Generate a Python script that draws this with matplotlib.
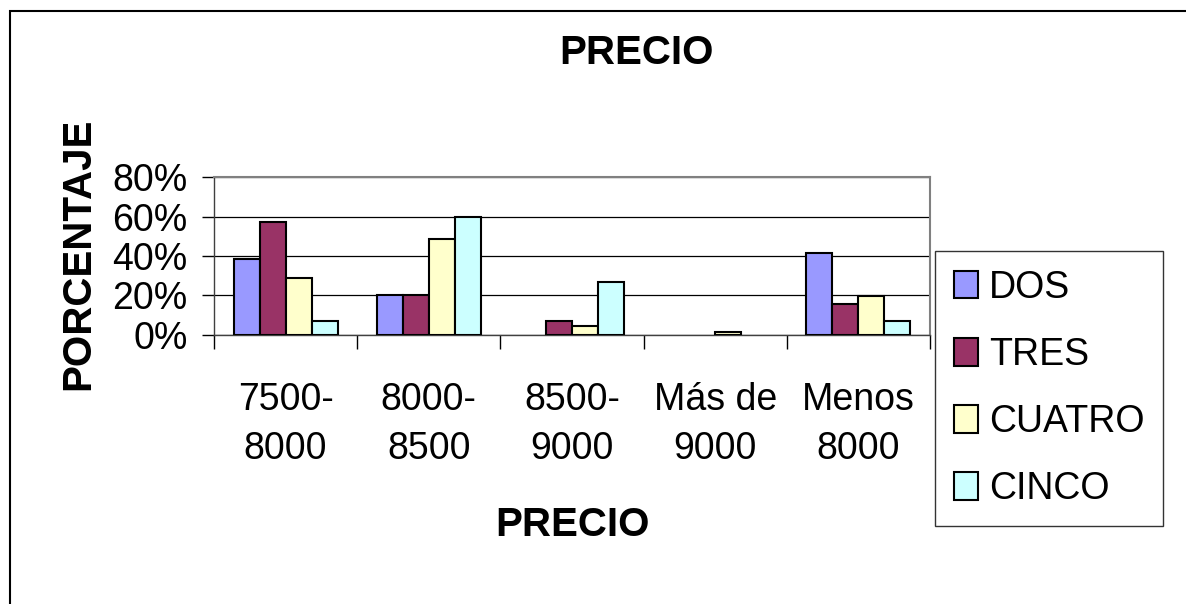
import matplotlib
matplotlib.use("Agg")
import matplotlib.pyplot as plt
import numpy as np
from matplotlib.patches import Rectangle

plt.rcParams["font.family"] = ["Liberation Sans", "DejaVu Sans"]

categories = ["7500-\n8000", "8000-\n8500", "8500-\n9000", "Más de\n9000", "Menos\n8000"]
series = ["DOS", "TRES", "CUATRO", "CINCO"]
dos = [38.5, 20, 0, 0, 41.4]
tres = [57.1, 20, 6.9, 0, 15.6]
cuatro = [28.6, 48.5, 4.2, 1.4, 19.8]
cinco = [6.9, 60, 26.9, 0, 6.9]
colors = ["#9999FF", "#993366", "#FFFFCC", "#CCFFFF"]

W, H = 1186, 604
fig = plt.figure(figsize=(W / 100, H / 100), dpi=100)
fig.patch.set_facecolor("white")

ax = fig.add_axes([214 / W, 1 - 334.7 / H, (930 - 214) / W, (334.7 - 177.3) / H])

x = np.arange(len(categories))
width = 1 / 5.5
for i, (name, vals) in enumerate(zip(series, [dos, tres, cuatro, cinco])):
    vals = np.array(vals) / 100
    # zero-height bars show nothing in the original, so drop their outline
    lws = [1.5 if v > 0 else 0 for v in vals]
    ax.bar(x + (i - 1.5) * width, vals, width,
           color=colors[i], edgecolor="black", linewidth=lws, label=name, zorder=3)

ax.set_xlim(-0.5, len(categories) - 0.5)
ax.set_ylim(0, 0.8)
ax.set_yticks([0, 0.2, 0.4, 0.6, 0.8])
ax.set_yticklabels(["0%", "20%", "40%", "60%", "80%"])
ax.yaxis.grid(True, color="black", linewidth=0.9, zorder=0)
ax.set_axisbelow(True)

ax.set_xticks(x)
ax.set_xticklabels(categories, linespacing=1.45)
ax.set_xticks(np.arange(-0.5, len(categories)), minor=True)
ax.tick_params(axis="x", which="major", length=0, pad=34, labelsize=27)
ax.tick_params(axis="x", which="minor", length=10, width=1, color="black", direction="out")
ax.tick_params(axis="y", length=9, width=1, color="black", direction="out", pad=10, labelsize=27)

for side in ["top", "right"]:
    ax.spines[side].set_color("#808080")
    ax.spines[side].set_linewidth(1.5)
for side in ["left", "bottom"]:
    ax.spines[side].set_color("#404040")
    ax.spines[side].set_linewidth(1.0)

fig.text(636 / W, 1 - 53 / H, "PRECIO", ha="center", va="center",
         fontsize=29, fontweight="bold")
fig.text(572 / W, 1 - 525 / H, "PRECIO", ha="center", va="center",
         fontsize=29, fontweight="bold")
fig.text(78 / W, 1 - 254 / H, "PORCENTAJE", ha="center", va="center",
         rotation=90, fontsize=29, fontweight="bold")

leg = fig.legend(loc="upper left", bbox_to_anchor=(935 / W, 1 - 251 / H),
                 bbox_transform=fig.transFigure, borderaxespad=0,
                 fontsize=27, frameon=True, fancybox=False, shadow=False,
                 handlelength=0.64, handleheight=0.75, handletextpad=0.3,
                 labelspacing=0.83, borderpad=0.5)
leg.get_frame().set_edgecolor("black")
leg.get_frame().set_linewidth(1.0)
for h in leg.legend_handles:
    h.set_linewidth(1.5)

fig.patches.append(Rectangle((10 / W, -0.2), (1262 - 10) / W, 1 - 11 / H + 0.2,
                             transform=fig.transFigure, fill=False,
                             edgecolor="black", linewidth=1.5))

fig.savefig("out.png", dpi=100, facecolor="white")
